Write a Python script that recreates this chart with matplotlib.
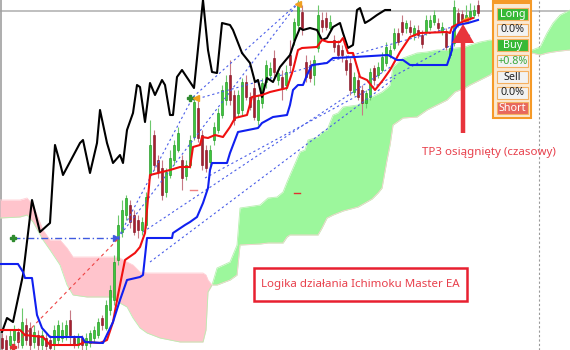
import matplotlib.pyplot as plt
from matplotlib.patches import Rectangle, FancyArrow

# Screen-style chart: x = pixel column, y = pixel row (price axis inverted, top = high)

# candles, one every 4 px starting at column 2
opens  = [338, 340, 345, 340, 332, 345, 325, 328, 342, 335, 345, 338, 340, 345, 340, 338, 335, 320, 338, 345,
          338, 345, 343, 338, 335, 318, 328, 310, 300, 260, 232, 215, 205, 215, 220, 230, 225, 175, 135, 160,
          168, 192, 175, 160, 150, 160, 176, 165, 137, 108, 135, 150, 162, 140, 130, 115, 100,  75,  95, 113,
          110,  82,  97,  88, 120, 103,  82,  75,  58,  80,  77,  85,  55,  40,  25,  12,  62,  65,  75,  48,
           20,  18,  28,  40,  45,  50,  60,  63,  92,  80,  90, 103,  97,  68,  75,  70,  63,  55,  48,  33,
           22,  28,  27,  35,  30,  35,  32,  27,  22,  23,  32,  33,  55,  43,  13,  14,  20,  17,  15,   5]
closes = [348, 350, 336, 330, 342, 322, 340, 345, 332, 345, 335, 346, 348, 330, 325, 330, 325, 335, 344, 338,
          345, 338, 333, 330, 322, 325, 305, 290, 262, 225, 210, 198, 222, 232, 230, 222, 197, 145, 165, 172,
          195, 172, 158, 145, 133, 178, 165, 140, 102, 138, 165, 168, 150, 127, 113,  90,  82, 100, 120,  95,
           82,  97, 107, 117, 100,  83,  65,  68,  72,  73,  88,  72,  65,  22,   5,  28,  77,  78,  60,  15,
           27,  27,  22,  47,  55,  55,  70,  90,  77,  97, 103,  93,  72,  80,  67,  57,  47,  50,  33,  42,
           32,  23,  32,  28,  35,  44,  20,  20,  15,  28,  27,  47,  48,   7,  23,  20,  15,  11,  10,  13]
highs  = [333, 335, 330, 325, 328, 308, 318, 322, 325, 330, 330, 332, 335, 325, 320, 322, 320, 310, 335, 333,
          335, 333, 330, 326, 318, 315, 300, 285, 255, 215, 200, 195, 200, 210, 215, 217, 192, 120, 130, 155,
          160, 168, 150, 140, 127, 155, 160, 135,  95, 100, 130, 145, 145, 122, 108,  85,  75,  60,  90,  90,
           78,  75,  92,  80,  95,  78,  60,  62,  50,  70,  70,  65,  40,  18,   0,   5,  55,  60,  55,   5,
           12,  12,  15,  35,  40,  45,  55,  58,  72,  75,  85,  90,  68,  65,  62,  52,  42,  45,  28,  28,
           15,  20,  20,  25,  25,  30,  15,  15,  10,  18,  22,  28,  45,   0,   8,  10,   5,   3,   5,   0]
lows   = [350, 352, 350, 345, 348, 348, 345, 350, 348, 350, 350, 350, 350, 350, 345, 342, 340, 345, 348, 348,
          350, 350, 347, 342, 338, 330, 330, 315, 305, 265, 237, 220, 228, 235, 238, 235, 228, 178, 170, 178,
          200, 197, 178, 165, 152, 190, 180, 168, 140, 142, 170, 172, 168, 145, 133, 118, 105, 105, 125, 117,
          115, 100, 110, 120, 125, 108,  88,  80,  78,  85, 100,  90,  72,  45,  30,  35,  82,  82,  85,  52,
           32,  30,  30,  52,  58,  62,  75,  95,  95, 100, 115, 108, 100,  85,  78,  72,  66,  58,  50,  45,
           35,  33,  35,  40,  38,  48,  35,  30,  25,  32,  35,  50,  58,  46,  27,  23,  22,  20,  18,  16]

# Chikou span (black)
chikou_x = [2, 7, 13, 23, 32, 40, 50, 53, 55, 60, 63, 80, 83, 90, 97, 100, 107, 113, 120, 123, 127, 133, 137,
            140, 145, 150, 155, 162, 165, 170, 173, 177, 182, 192, 194, 203, 208, 212, 217, 222, 230, 233, 242,
            250, 255, 258, 262, 267, 273, 280, 290, 295, 300, 303, 310, 317, 322, 327, 333, 340, 343, 348, 353,
            357, 360, 365, 370, 377, 385, 390]
chikou_y = [332, 318, 322, 275, 200, 232, 223, 175, 145, 163, 175, 143, 140, 173, 143, 110, 143, 163, 155, 163,
            130, 113, 85, 87, 122, 83, 95, 80, 85, 115, 115, 77, 70, 85, 88, 0, 50, 72, 73, 23, 25, 30, 53,
            63, 82, 80, 97, 78, 82, 67, 55, 40, 28, 30, 28, 30, 40, 38, 27, 23, 33, 48, 45,
            10, 8, 23, 20, 15, 10, 10]

# Tenkan-sen (red)
tenkan_x = [0, 20, 25, 43, 50, 78, 85, 100, 107, 113, 118, 125, 135, 140, 145, 150, 158, 170, 180, 190, 193,
            200, 202, 208, 215, 223, 230, 235, 247, 252, 262, 270, 287, 293, 298, 302, 317, 322, 328, 340, 343,
            348, 353, 360, 367, 375, 383, 390, 400, 410, 420, 447, 450, 452, 462, 473]
tenkan_y = [330, 330, 335, 337, 345, 345, 342, 343, 340, 322, 295, 260, 253, 247, 233, 175, 173, 170, 167, 167,
            147, 145, 137, 138, 135, 137, 127, 118, 115, 97, 95, 92, 88, 70, 50, 48, 47, 40, 42, 42, 38,
            53, 53, 77, 80, 90, 80, 70, 52, 37, 33, 32, 33, 27, 22, 18]

# Kijun-sen (blue)
kijun_x = [0, 18, 23, 25, 32, 37, 42, 50, 82, 85, 103, 113, 120, 127, 140, 143, 147, 172, 173, 185, 190, 197,
           203, 208, 210, 212, 227, 230, 238, 258, 262, 273, 287, 290, 293, 298, 303, 307, 312, 327, 333, 355,
           388, 397, 403, 410, 447, 452, 453, 458, 468, 478]
kijun_y = [264, 264, 272, 278, 278, 315, 328, 337, 337, 342, 343, 322, 300, 280, 277, 275, 238, 238, 233, 225,
           222, 217, 203, 188, 170, 163, 163, 153, 132, 128, 123, 117, 115, 105, 90, 85, 85, 75, 65, 63, 58,
           57, 55, 60, 60, 65, 65, 50, 32, 25, 23, 20]

# Kumo: senkou span A / span B
kumo_x = [0, 20, 27, 33, 43, 50, 60, 67, 73, 87, 113, 118, 127, 133, 140, 147, 160, 180, 203, 206, 208, 212,
          217, 230, 237, 240, 260, 268, 277, 283, 287, 290, 300, 305, 308, 318, 322, 327, 333, 338, 343, 358,
          365, 372, 378, 382, 387, 390, 393, 403, 417, 427, 437, 447, 455, 465, 470, 480, 490, 500, 520, 532,
          540, 547, 553, 560, 570]
span_a = [218, 217, 215, 222, 240, 250, 265, 285, 295, 297, 297, 302, 307, 318, 328, 333, 338, 342, 342, 330,
          292, 285, 268, 262, 245, 208, 205, 198, 197, 192, 182, 175, 152, 150, 140, 137, 132, 130, 115, 113,
          107, 105, 100, 97, 94, 92, 88, 85, 67, 58, 53, 52, 50, 50, 48, 47, 45, 42, 40, 42, 46, 50,
          47, 33, 23, 15, 10]
span_b = [200, 200, 198, 205, 230, 240, 240, 248, 257, 257, 257, 257, 262, 265, 272, 273, 273, 273, 273, 275,
          280, 285, 285, 280, 275, 245, 244, 243, 243, 243, 237, 235, 235, 235, 235, 235, 228, 218, 215, 213,
          211, 207, 203, 199, 193, 188, 160, 145, 125, 118, 117, 110, 105, 100, 92, 88, 85, 80, 75, 65, 57, 53,
          55, 53, 52, 51, 50]

# signal lines (start/end points)
dotted_lines = [((118, 238), (193, 97)), ((118, 238), (298, 3)), ((193, 97), (298, 3)),
                ((193, 100), (470, 22)), ((143, 232), (392, 66)), ((150, 262), (395, 78)),
                ((205, 178), (470, 35))]

panel_labels = ["Long", "0.0%", "Buy", "+0.8%", "Sell", "0.0%", "Short"]
panel_faces  = ["#36b936", "#f2f2f2", "#36b936", "#f2f2f2", "#f2f2f2", "#f2f2f2", "#e8685c"]
panel_texts  = ["white", "#222222", "white", "#3aa83a", "#222222", "#222222", "white"]

fig = plt.figure(figsize=(5.7, 3.5), dpi=100)
ax  = fig.add_axes([0, 0, 1, 1])
ax.set_xlim(0, 570)
ax.set_ylim(350, 0)
ax.axis("off")

# frame lines of the terminal
ax.axhline(11, color="#b4b4b4", lw=1.2, zorder=1)
ax.axvline(1, color="#a0a0a0", lw=1.2, zorder=1)
ax.axvline(539, color="#9a9a9a", lw=0.8, ls=(0, (2, 2)), zorder=1)

# cloud
ax.fill_between(kumo_x, span_a, span_b, where=[a < b for a, b in zip(span_a, span_b)],
                interpolate=True, color="#9cf79c", lw=0, zorder=2)
ax.fill_between(kumo_x, span_a, span_b, where=[a >= b for a, b in zip(span_a, span_b)],
                interpolate=True, color="#ffc4cc", lw=0, zorder=2)
ax.plot(kumo_x, span_a, color="#b8f0b0", lw=0.6, zorder=2)
ax.plot(kumo_x, span_b, color="#ffd0d6", lw=0.6, zorder=2)

# candles
xs = [2 + 4 * i for i in range(len(opens))]
for x, o, c, h, l in zip(xs, opens, closes, highs, lows):
    up = c < o
    ax.vlines(x, h, l, color="#6cc86c" if up else "#c77a85", lw=0.8, zorder=3)
    ax.add_patch(Rectangle((x - 1.3, min(o, c)), 2.6, max(abs(c - o), 1),
                           facecolor="#3cc83c" if up else "#a8202f",
                           edgecolor="#168a16" if up else "#7a1020", lw=0.4, zorder=4))

# signal lines
for (x0, y0), (x1, y1) in dotted_lines:
    ax.plot([x0, x1], [y0, y1], color="#4a5ee8", lw=0.8, ls=(0, (2, 2.5)), zorder=5)
ax.plot([13, 116], [238, 238], color="#3f5ae0", lw=1.0, ls=(0, (5, 2, 1, 2)), zorder=5)
ax.plot([116], [238], marker=">", color="#3f5ae0", ms=4, zorder=5)
ax.plot([13, 120], [347, 237], color="#ee4444", lw=0.8, ls=(0, (3, 3)), zorder=5)
ax.plot([13, 190], [238, 98], marker="P", ls="none", color="#2e8b2e", ms=4, zorder=6)
ax.plot([13], [347], marker="P", color="#e03030", ms=4, zorder=6)
ax.plot([196, 298, 465], [98, 4, 20], marker="<", ls="none", color="#f0a020", ms=4, zorder=6)
ax.plot([294, 300], [193, 193], color="#e03030", lw=1.0, zorder=6)
ax.plot([190, 197], [190, 190], color="#f08080", lw=1.0, zorder=6)

# ichimoku lines
ax.plot(chikou_x, chikou_y, color="black", lw=1.5, zorder=7)
ax.plot(tenkan_x, tenkan_y, color="#f01010", lw=1.5, zorder=7)
ax.plot(kijun_x, kijun_y, color="#1020f0", lw=1.5, zorder=7)

# arrow and annotations
ax.add_patch(FancyArrow(463, 133, 0, -90, width=4.5, head_width=22, head_length=19,
                        length_includes_head=False, color="#e8343c", lw=0, zorder=8))
ax.text(489, 152, "TP3 osiągnięty (czasowy)", color="#e8404c", fontsize=8.3,
        family="Noto Sans", ha="center", va="center", zorder=9)
ax.add_patch(Rectangle((254, 268), 213, 33, facecolor="white", edgecolor="#e82030", lw=1.8, zorder=8))
ax.text(360, 285, "Logika działania Ichimoku Master EA", color="#e8404c", fontsize=8.3,
        family="Noto Sans", ha="center", va="center", zorder=9)

# EA panel
ax.add_patch(Rectangle((493, -2), 38, 120, facecolor="#fbe9d2", edgecolor="#f59a28", lw=1.5, zorder=9))
ax.add_patch(Rectangle((493, -2), 38, 6, facecolor="#f59a28", lw=0, zorder=10))
for k, (lab, fc, tc) in enumerate(zip(panel_labels, panel_faces, panel_texts)):
    top = 8 + k * 15.7
    ax.add_patch(Rectangle((497, top), 31, 12, facecolor=fc, edgecolor="#f5b060", lw=0.8, zorder=10))
    ax.text(512.5, top + 6.3, lab, color=tc, fontsize=7.8, family="Noto Sans",
            ha="center", va="center", zorder=11)

fig.savefig("out.png", dpi=100)
